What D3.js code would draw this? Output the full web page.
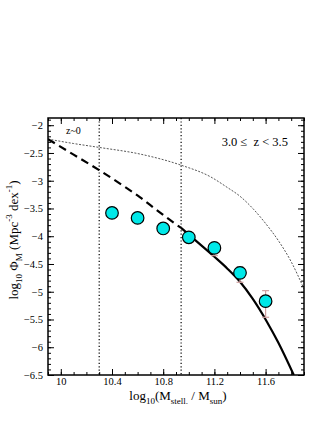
<!DOCTYPE html>
<html>
<head>
<meta charset="utf-8">
<script src="https://cdn.jsdelivr.net/npm/d3@7"></script>
<style>
body { margin: 0; background: #fff; }
text { font-family: "Liberation Serif", "DejaVu Serif", serif; }
</style>
</head>
<body>
<svg id="chart" width="327" height="423"></svg>
<script>
// data points (log stellar mass, log phi) and errors
var massX = [10.4, 10.6, 10.8, 11.0, 11.2, 11.4, 11.6];
var phiY = [-3.58, -3.67, -3.86, -4.02, -4.21, -4.66, -5.17];
var errLo = [0.04, 0.04, 0.05, 0.06, 0.14, 0.17, 0.29];
var errHi = [0.04, 0.04, 0.05, 0.06, 0.08, 0.11, 0.19];

// fitted schechter curve
var fitX = [9.9, 10.1, 10.3, 10.5, 10.62, 10.75, 10.89, 10.94, 11.05, 11.2, 11.3, 11.4, 11.5, 11.61, 11.7, 11.82];
var fitY = [-2.25, -2.53, -2.81, -3.11, -3.30, -3.53, -3.77, -3.85, -4.07, -4.37, -4.58, -4.82, -5.13, -5.54, -5.92, -6.5];

// local (z~0) curve
var z0X = [9.9, 10.1, 10.3, 10.62, 10.94, 11.17, 11.3, 11.4, 11.5, 11.6, 11.7, 11.8, 11.9];
var z0Y = [-2.25, -2.33, -2.40, -2.52, -2.72, -2.93, -3.12, -3.28, -3.50, -3.77, -4.08, -4.46, -4.95];

var completeness = [10.3, 10.94];   // dotted vertical lines
var xTicks = [10, 10.4, 10.8, 11.2, 11.6];
var yTicks = [-6.5, -6, -5.5, -5, -4.5, -4, -3.5, -3, -2.5, -2];

var mLeft = 48, mRight = 304, mTop = 118, mBottom = 375;

var svg = d3.select('#chart');

var x = d3.scaleLinear().domain([9.9, 11.9]).range([mLeft, mRight]);
var y = d3.scaleLinear().domain([-6.5, -1.87]).range([mBottom, mTop]);

svg.append('clipPath').attr('id', 'clip')
	.append('rect').attr('x', mLeft).attr('y', mTop)
	.attr('width', mRight - mLeft).attr('height', mBottom - mTop);

var plot = svg.append('g').attr('clip-path', 'url(#clip)');

// dotted lines
plot.selectAll('line.dot')
	.data(completeness)
	.enter()
	.append('line')
	.attr('x1', function(d){ return x(d); })
	.attr('x2', function(d){ return x(d); })
	.attr('y1', mTop).attr('y2', mBottom)
	.attr('stroke', '#000').attr('stroke-width', 1.2)
	.attr('stroke-dasharray', '1.2,2.2');

var line = d3.line().curve(d3.curveMonotoneX)
	.x(function(d){ return x(d[0]); })
	.y(function(d){ return y(d[1]); });

var z0 = d3.zip(z0X, z0Y);
plot.append('path').datum(z0)
	.attr('d', line)
	.attr('fill', 'none').attr('stroke', '#444').attr('stroke-width', 0.9)
	.attr('stroke-dasharray', '2,1.5');

var fit = d3.zip(fitX, fitY);
var cut = completeness[1];
plot.append('path').datum(fit.filter(function(d){ return d[0] <= cut; }))
	.attr('d', line)
	.attr('fill', 'none').attr('stroke', '#000').attr('stroke-width', 2.2)
	.attr('stroke-dasharray', '8,5');
plot.append('path').datum(fit.filter(function(d){ return d[0] >= cut; }))
	.attr('d', line)
	.attr('fill', 'none').attr('stroke', '#000').attr('stroke-width', 2.2);

// error bars
var pts = massX.map(function(m, i){ return {m: m, p: phiY[i], lo: errLo[i], hi: errHi[i]}; });
var eb = plot.selectAll('g.err').data(pts).enter().append('g')
	.attr('stroke', '#d0a0a0').attr('stroke-width', 1.2);
eb.append('line')
	.attr('x1', function(d){ return x(d.m); }).attr('x2', function(d){ return x(d.m); })
	.attr('y1', function(d){ return y(d.p + d.hi); })
	.attr('y2', function(d){ return y(d.p - d.lo); });
eb.append('line')
	.attr('x1', function(d){ return x(d.m) - 3.5; }).attr('x2', function(d){ return x(d.m) + 3.5; })
	.attr('y1', function(d){ return y(d.p + d.hi); }).attr('y2', function(d){ return y(d.p + d.hi); });
eb.append('line')
	.attr('x1', function(d){ return x(d.m) - 3.5; }).attr('x2', function(d){ return x(d.m) + 3.5; })
	.attr('y1', function(d){ return y(d.p - d.lo); }).attr('y2', function(d){ return y(d.p - d.lo); });

plot.selectAll('circle')
	.data(pts)
	.enter()
	.append('circle')
	.attr('cx', function(d){ return x(d.m); })
	.attr('cy', function(d){ return y(d.p); })
	.attr('r', 6.3)
	.attr('fill', '#00e8e8')
	.attr('stroke', '#000').attr('stroke-width', 1.2);

// axes, ticks inward on all four sides
var xMinor = d3.range(9.9, 11.91, 0.1).map(function(v){ return +v.toFixed(1); });
var yMinor = d3.range(-6.5, -1.85, 0.1).map(function(v){ return +v.toFixed(1); });

function styleAxis(g){
	g.select('.domain').remove();
	g.selectAll('line').attr('stroke', '#000').attr('stroke-width', 1);
	g.selectAll('text').attr('font-size', 10.5).attr('fill', '#000');
}

svg.append('g').attr('transform', 'translate(0,' + mBottom + ')')
	.call(d3.axisBottom(x).tickValues(xMinor).tickSize(-3).tickFormat(''))
	.call(styleAxis);
svg.append('g').attr('transform', 'translate(0,' + mBottom + ')')
	.call(d3.axisBottom(x).tickValues(xTicks).tickSize(-6).tickPadding(3)
		.tickFormat(function(d){ return d3.format('')(d); }))
	.call(styleAxis);
svg.append('g').attr('transform', 'translate(0,' + mTop + ')')
	.call(d3.axisTop(x).tickValues(xMinor).tickSize(-3).tickFormat(''))
	.call(styleAxis);
svg.append('g').attr('transform', 'translate(0,' + mTop + ')')
	.call(d3.axisTop(x).tickValues(xTicks).tickSize(-6).tickFormat(''))
	.call(styleAxis);

svg.append('g').attr('transform', 'translate(' + mLeft + ',0)')
	.call(d3.axisLeft(y).tickValues(yMinor).tickSize(-3).tickFormat(''))
	.call(styleAxis);
svg.append('g').attr('transform', 'translate(' + mLeft + ',0)')
	.call(d3.axisLeft(y).tickValues(yTicks).tickSize(-6).tickPadding(5)
		.tickFormat(function(d){ return d3.format('')(d); }))
	.call(styleAxis);
svg.append('g').attr('transform', 'translate(' + mRight + ',0)')
	.call(d3.axisRight(y).tickValues(yMinor).tickSize(-3).tickFormat(''))
	.call(styleAxis);
svg.append('g').attr('transform', 'translate(' + mRight + ',0)')
	.call(d3.axisRight(y).tickValues(yTicks).tickSize(-6).tickFormat(''))
	.call(styleAxis);

svg.append('rect')
	.attr('x', mLeft).attr('y', mTop)
	.attr('width', mRight - mLeft).attr('height', mBottom - mTop)
	.attr('fill', 'none').attr('stroke', '#000').attr('stroke-width', 1.5);

// labels
svg.append('text').attr('x', 66).attr('y', 134)
	.attr('font-size', 10).text('z~0');
svg.append('text').attr('x', 288).attr('y', 146)
	.attr('text-anchor', 'end').attr('font-size', 12.5)
	.attr('xml:space', 'preserve')
	.text('3.0 \u2264  z < 3.5');

var xl = svg.append('text').attr('x', 178).attr('y', 400)
	.attr('text-anchor', 'middle').attr('font-size', 13);
xl.append('tspan').text('log');
xl.append('tspan').attr('font-size', 9).attr('dy', 4).text('10');
xl.append('tspan').attr('dy', -4).text('(M');
xl.append('tspan').attr('font-size', 9).attr('dy', 4).text('stell.');
xl.append('tspan').attr('dy', -4).text(' / M');
xl.append('tspan').attr('font-size', 9).attr('dy', 4).text('sun');
xl.append('tspan').attr('dy', -4).text(')');

var yl = svg.append('text')
	.attr('transform', 'translate(18,240) rotate(-90)')
	.attr('text-anchor', 'middle').attr('font-size', 13);
yl.append('tspan').text('log');
yl.append('tspan').attr('font-size', 9).attr('dy', 4).text('10');
yl.append('tspan').attr('dy', -4).text(' \u03A6');
yl.append('tspan').attr('font-size', 9).attr('dy', 4).text('M');
yl.append('tspan').attr('dy', -4).text('  (Mpc');
yl.append('tspan').attr('font-size', 9).attr('dy', -6).text('-3');
yl.append('tspan').attr('dy', 6).text(' dex');
yl.append('tspan').attr('font-size', 9).attr('dy', -6).text('-1');
yl.append('tspan').attr('dy', 6).text(')');
</script>
</body>
</html>
